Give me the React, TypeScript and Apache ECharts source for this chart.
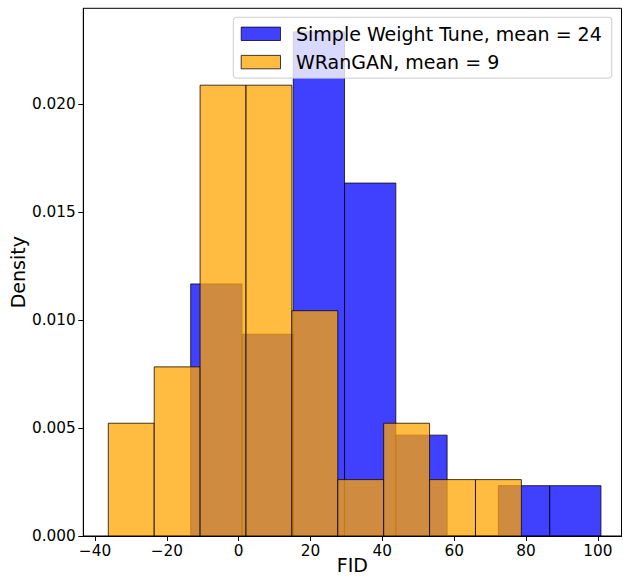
import React, { useEffect, useRef } from "react";
import * as echarts from "echarts";

// Histogram bin edges (FID) and densities
const blueName = "Simple Weight Tune, mean = 24";
const orangeName = "WRanGAN, mean = 9";
const blueEdges = [-13.36, 0.92, 15.2, 29.48, 43.76, 58.04, 72.32, 86.6, 100.88];
const blueDensity = [0.01167, 0.00934, 0.02334, 0.01634, 0.00467, 0, 0.00233, 0.00233];
const orangeEdges = [-36.3, -23.52, -10.74, 2.04, 14.82, 27.6, 40.38, 53.16, 65.94, 78.72];
const orangeDensity = [0.00522, 0.00783, 0.02087, 0.02087, 0.01043, 0.00261, 0.00522, 0.00261, 0.00261];
const xTicks = [-40, -20, 0, 20, 40, 60, 80, 100];
const yTicks = [0, 0.005, 0.01, 0.015, 0.02];

const FONT = "DejaVu Sans";
const BLUE = "rgba(0,0,255,0.75)";
const ORANGE = "rgba(255,165,0,0.75)";
const EDGE = "rgba(0,0,0,0.75)";

function toBins(edges: number[], dens: number[]) {
  return dens.map((d, i) => [edges[i], edges[i + 1], d]);
}

function makeRender(fill: string) {
  return (params: any, api: any) => {
    const x0 = api.value(0);
    const x1 = api.value(1);
    const y = api.value(2);
    const p0 = api.coord([x0, y]);
    const p1 = api.coord([x1, 0]);
    return {
      type: "rect",
      shape: { x: p0[0], y: p0[1], width: p1[0] - p0[0], height: p1[1] - p0[1] },
      style: { fill, stroke: EDGE, lineWidth: 1 },
    };
  };
}

export default function App() {
  const ref = useRef<HTMLDivElement>(null);
  useEffect(() => {
    if (!ref.current) return;
    const chart = echarts.init(ref.current, undefined, { renderer: "svg" });
    const minus = (v: number) => (v < 0 ? "\u2212" + Math.abs(v) : String(v));
    chart.setOption({
      animation: false,
      grid: {
        left: 83.3,
        top: 8.3,
        right: 1.5,
        bottom: 43,
        containLabel: false,
        outerBoundsMode: "none",
        show: true,
        borderColor: "#000",
        borderWidth: 1,
        backgroundColor: "transparent",
      },
      legend: {
        orient: "vertical",
        left: 233.3,
        top: 17.3,
        padding: [6.5, 10, 6, 7.4],
        itemWidth: 39.3,
        itemHeight: 13.4,
        itemGap: 8.3,
        icon: "rect",
        backgroundColor: "rgba(255,255,255,0.8)",
        borderColor: "#cccccc",
        borderWidth: 1,
        borderRadius: 3,
        textStyle: {
          fontFamily: FONT,
          fontSize: 19,
          color: "#000",
          lineHeight: 20,
          padding: [0, 0, 0, 10.5],
        },
        data: [
          { name: blueName, itemStyle: { color: BLUE, borderColor: EDGE, borderWidth: 1 } },
          { name: orangeName, itemStyle: { color: ORANGE, borderColor: EDGE, borderWidth: 1 } },
        ],
      },
      xAxis: {
        type: "value",
        min: -43.26,
        max: 106.6,
        name: "FID",
        nameLocation: "middle",
        nameGap: 19,
        nameMoveOverlap: false,
        nameTextStyle: { fontFamily: FONT, fontSize: 19, color: "#000" },
        axisLine: { show: true, onZero: false, lineStyle: { color: "#000", width: 1 } },
        axisTick: { show: true, inside: false, length: 5, customValues: xTicks, lineStyle: { color: "#000", width: 1 } },
        axisLabel: {
          customValues: xTicks,
          formatter: (v: number) => minus(v),
          fontFamily: FONT,
          fontSize: 15.3,
          color: "#000",
          margin: 7,
        },
        splitLine: { show: false },
      },
      yAxis: {
        type: "value",
        min: 0,
        max: 0.02443,
        name: "Density",
        nameLocation: "middle",
        nameGap: 56,
        nameMoveOverlap: false,
        nameRotate: 90,
        nameTextStyle: { fontFamily: FONT, fontSize: 19, color: "#000" },
        axisLine: { show: true, onZero: false, lineStyle: { color: "#000", width: 1 } },
        axisTick: { show: true, inside: false, length: 5, customValues: yTicks, lineStyle: { color: "#000", width: 1 } },
        axisLabel: {
          customValues: yTicks,
          formatter: (v: number) => v.toFixed(3),
          fontFamily: FONT,
          fontSize: 15.3,
          color: "#000",
          margin: 7.5,
        },
        splitLine: { show: false },
      },
      series: [
        {
          name: blueName,
          type: "custom",
          renderItem: makeRender(BLUE),
          itemStyle: { color: BLUE },
          encode: { x: [0, 1], y: 2 },
          data: toBins(blueEdges, blueDensity),
          z: 2,
        },
        {
          name: orangeName,
          type: "custom",
          renderItem: makeRender(ORANGE),
          itemStyle: { color: ORANGE },
          encode: { x: [0, 1], y: 2 },
          data: toBins(orangeEdges, orangeDensity),
          z: 3,
        },
      ],
    });
    return () => chart.dispose();
  }, []);
  return (
    <div
      ref={ref}
      style={{ position: "absolute", left: 0, top: 0, width: 623, height: 579 }}
    />
  );
}
